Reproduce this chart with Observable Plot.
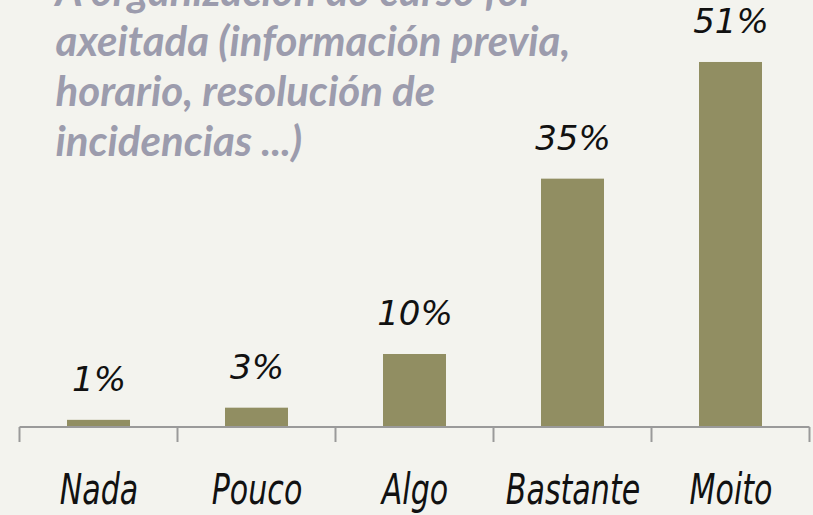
<!DOCTYPE html>
<html>
<head>
<meta charset="utf-8">
<script src="https://cdn.jsdelivr.net/npm/d3@7"></script>
<script src="https://cdn.jsdelivr.net/npm/@observablehq/plot@0.6"></script>
<style>
  html, body { margin: 0; padding: 0; background: #f3f3ee; overflow: hidden; }
  #chart svg { display: block; }
</style>
</head>
<body>
<div id="chart"></div>
<script>
const categories = ["Nada", "Pouco", "Algo", "Bastante", "Moito"];
const values = [1, 2.7, 10.2, 34.7, 51];
const labels = ["1%", "3%", "10%", "35%", "51%"];
const title = "A organización do curso foi\naxeitada (información previa,\nhorario, resolución de\nincidencias ...)";

const data = categories.map((c, i) => ({cat: c, value: values[i], label: labels[i]}));

const boundaryTicks = (index, scales, values, dims) => {
  const x = scales.x;
  const bw = x.bandwidth ? x.bandwidth() : 0;
  const step = x(categories[1]) - x(categories[0]);
  const y0 = scales.y(0);
  const xs = categories.map(c => x(c) + bw / 2 - step / 2);
  xs.push(x(categories[categories.length - 1]) + bw / 2 + step / 2);
  const g = d3.create("svg:g");
  g.append("line").attr("x1", xs[0]).attr("x2", xs[xs.length - 1]).attr("y1", y0).attr("y2", y0)
    .attr("stroke", "#9a9a9a").attr("stroke-width", 2);
  for (const v of xs) {
    g.append("line").attr("x1", v).attr("x2", v).attr("y1", y0).attr("y2", y0 + 15)
      .attr("stroke", "#9a9a9a").attr("stroke-width", 2);
  }
  return g.node();
};

const chart = Plot.plot({
  width: 813,
  height: 515,
  marginLeft: 19,
  marginRight: 3,
  marginTop: 0,
  marginBottom: 88,
  style: {background: "#f3f3ee", overflow: "visible"},
  x: {domain: categories, paddingInner: 0.6, paddingOuter: 0.3, axis: null},
  y: {domain: [0, 59.66], axis: null},
  marks: [
    Plot.barY(data, {x: "cat", y: "value", fill: "#918e62"}),
    boundaryTicks,
    Plot.text(data, {x: "cat", y: "value", text: "label", dy: -40,
      fontSize: 34, fontStyle: "italic", fontFamily: "'DejaVu Sans', sans-serif",
      fill: "#111", stroke: "none"}),
    Plot.text(data, {x: "cat", y: 0, text: "cat", dy: 63,
      fontSize: 43, fontStyle: "italic", fontFamily: "'DejaVu Sans', sans-serif",
      fill: "#111"}),
    Plot.text([title], {frameAnchor: "top-left", text: d => d, dx: 36, dy: -30,
      lineHeight: 1.19, fontSize: 42, fontWeight: "bold", fontStyle: "italic",
      fontFamily: "'Lato', 'DejaVu Sans', sans-serif", fill: "#9c9cad", textAnchor: "start", lineAnchor: "top"})
  ]
});
document.getElementById("chart").append(chart);
// horizontally condense the category labels (handwritten narrow look)
d3.select(chart).selectAll("text").filter(function() { return categories.includes(this.textContent); })
  .each(function() {
    const t = this.getAttribute("transform") || "";
    this.setAttribute("transform", t + " scale(0.7,1)");
  });
</script>
</body>
</html>
